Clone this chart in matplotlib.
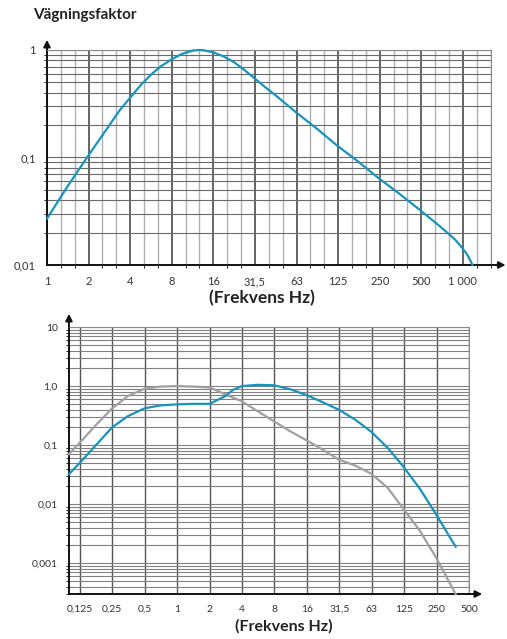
import numpy as np
import matplotlib.pyplot as plt
from matplotlib.ticker import NullFormatter, LogLocator

plt.rcParams['font.family'] = ['Lato', 'DejaVu Sans']

# top chart: weighting factor
top_freq = [1, 1.41, 2, 2.83, 3.36, 4, 4.76, 5.66, 6.73, 8, 9.5, 11.3, 12.5,
            13.5, 16, 19, 22.6, 26.9, 31.5, 38, 45, 63, 90, 125, 180, 250,
            355, 500, 710, 900, 1000, 1100, 1160, 1200]
top_vals = [0.027, 0.054, 0.105, 0.2, 0.275, 0.36, 0.47, 0.59, 0.71, 0.82,
            0.92, 0.985, 1.0, 0.995, 0.95, 0.87, 0.77, 0.65, 0.55, 0.45, 0.38,
            0.265, 0.185, 0.13, 0.091, 0.0645, 0.046, 0.0325, 0.0225, 0.0172,
            0.0147, 0.0125, 0.011, 0.01]
top_ticks = [1, 2, 4, 8, 16, 32, 64, 128, 256, 512, 1024]
top_labels = ['1', '2', '4', '8', '16', '31,5', '63', '125', '250', '500', '1 000']
top_yticks = [0.01, 0.1, 1]
top_ylabels = ['0,01', '0,1', '1']

# bottom chart: two weighting curves
bot_freq_blue = [0.099, 0.125, 0.177, 0.25, 0.35, 0.5, 0.7, 1, 1.41, 2, 2.83,
                 3.3, 4, 5.66, 8, 11.3, 16, 22.6, 31.5, 45, 63, 90, 125, 180,
                 250, 385]
bot_vals_blue = [0.032, 0.05, 0.1, 0.2, 0.31, 0.42, 0.47, 0.49, 0.5, 0.5, 0.68,
                 0.86, 1.0, 1.05, 1.03, 0.88, 0.7, 0.53, 0.4, 0.27, 0.17, 0.09,
                 0.044, 0.018, 0.007, 0.0019]
bot_freq_gray = [0.099, 0.125, 0.177, 0.25, 0.35, 0.5, 0.7, 1, 1.41, 2, 2.83,
                 4, 5.66, 8, 11.3, 16, 22.6, 31.5, 45, 63, 90, 125, 180, 250,
                 300, 385]
bot_vals_gray = [0.07, 0.11, 0.22, 0.42, 0.68, 0.9, 0.98, 1.0, 0.98, 0.95, 0.72,
                 0.55, 0.37, 0.25, 0.17, 0.12, 0.083, 0.057, 0.045, 0.033,
                 0.019, 0.0085, 0.0035, 0.0013, 0.0007, 0.0003]
bot_ticks = [0.125, 0.25, 0.5, 1, 2, 4, 8, 16, 32, 64, 128, 256, 512]
bot_labels = ['0,125', '0,25', '0,5', '1', '2', '4', '8', '16', '31,5', '63',
              '125', '250', '500']
bot_yticks = [0.001, 0.01, 0.1, 1, 10]
bot_ylabels = ['0,001', '0,01', '0,1', '1,0', '10']

BLUE = '#1a93b8'
GRAY = '#a0a0a0'

fig = plt.figure(figsize=(5.07, 6.39), dpi=100)

# ---- top chart ----
ax1 = fig.add_axes([0.0927, 0.5853, 0.875, 0.3365])
ax1.set_xscale('log', base=2)
ax1.set_yscale('log')
ax1.set_xlim(1, 1000 * 2 ** (1 / 3))
ax1.set_ylim(0.01, 1)
minor_x = [2 ** (k + f) for k in range(0, 11) for f in (1 / 3, 2 / 3)]
ax1.set_xticks(top_ticks, top_labels)
ax1.set_xticks(minor_x, minor=True)
ax1.xaxis.set_minor_formatter(NullFormatter())
ax1.set_yticks(top_yticks, top_ylabels)
ax1.yaxis.set_minor_locator(LogLocator(base=10, subs=np.arange(2, 10)))
ax1.yaxis.set_minor_formatter(NullFormatter())
ax1.grid(True, axis='x', which='major', color='#3a3a3a', lw=1.1)
ax1.grid(True, axis='x', which='minor', color='#b0b0b0', lw=1.0)
ax1.grid(True, axis='y', which='both', color='#6a6a6a', lw=0.8)
ax1.plot(top_freq, top_vals, color=BLUE, lw=1.6, zorder=5, clip_on=False)

# ---- bottom chart ----
ax2 = fig.add_axes([0.136, 0.0704, 0.789, 0.4178])
ax2.set_xscale('log', base=2)
ax2.set_yscale('log')
ax2.set_xlim(0.125 * 2 ** (-1 / 3), 512)
ax2.set_ylim(0.0003, 10)
ax2.set_xticks(bot_ticks, bot_labels)
ax2.xaxis.set_minor_locator(plt.NullLocator())
ax2.set_yticks(bot_yticks, bot_ylabels)
ax2.yaxis.set_minor_locator(LogLocator(base=10, subs=np.arange(2, 10)))
ax2.yaxis.set_minor_formatter(NullFormatter())
ax2.grid(True, axis='x', which='major', color='#555555', lw=1.0)
ax2.grid(True, axis='y', which='both', color='#808080', lw=0.8)
ax2.plot(bot_freq_gray, bot_vals_gray, color=GRAY, lw=1.6, zorder=4, clip_on=False)
ax2.plot(bot_freq_blue, bot_vals_blue, color=BLUE, lw=1.6, zorder=5, clip_on=False)

for ax in (ax1, ax2):
    ax.set_axisbelow(True)
    ax.tick_params(length=0, labelsize=8, colors='#333333', pad=8)
    for s in ('top', 'right'):
        ax.spines[s].set_color('#8a8a8a')
        ax.spines[s].set_linewidth(0.8)
    for s in ('left', 'bottom'):
        ax.spines[s].set_color('#111111')
        ax.spines[s].set_linewidth(1.4)
    # axis arrows
    ax.annotate('', xy=(0, 1.06), xytext=(0, 0.99), xycoords='axes fraction',
                arrowprops=dict(arrowstyle='-|>', color='#111111', lw=1.4,
                                mutation_scale=10))
    ax.annotate('', xy=(1.04, 0), xytext=(0.99, 0), xycoords='axes fraction',
                arrowprops=dict(arrowstyle='-|>', color='#111111', lw=1.4,
                                mutation_scale=10))

ax2.tick_params(labelsize=7.5)

fig.text(0.065, 0.976, 'Vägningsfaktor', fontsize=11, fontweight='bold',
         ha='left', va='center', color='#222222')
fig.text(0.517, 0.534, '(Frekvens Hz)', fontsize=12.5, fontweight='bold',
         ha='center', va='center', color='#222222')
fig.text(0.56, 0.02, '(Frekvens Hz)', fontsize=11.5, fontweight='bold',
         ha='center', va='center', color='#222222')

plt.savefig('out.png', dpi=100)
